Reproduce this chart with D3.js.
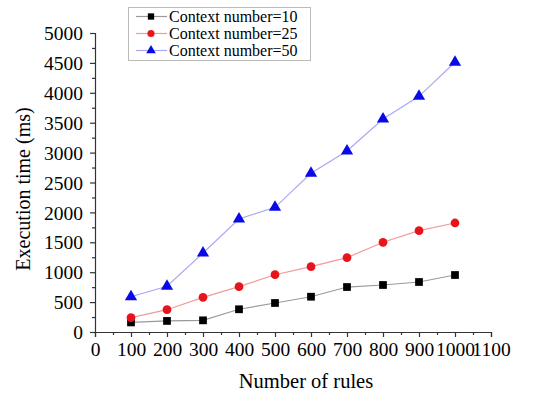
<!DOCTYPE html>
<html>
<head>
<meta charset="utf-8">
<script src="https://cdn.jsdelivr.net/npm/d3@7"></script>
<style>
  body { margin: 0; background: #fff; }
</style>
</head>
<body>
<svg id="svg1" width="535" height="396"></svg>
<script>
var rules = [100, 200, 300, 400, 500, 600, 700, 800, 900, 1000];
var ctx10 = [160, 185, 195, 380, 485, 590, 752, 786, 836, 953];
var ctx25 = [240, 373, 580, 758, 958, 1092, 1243, 1500, 1694, 1823];
var ctx50 = [590, 764, 1320, 1890, 2085, 2654, 3027, 3562, 3941, 4510];
var xTicks = [0, 100, 200, 300, 400, 500, 600, 700, 800, 900, 1000, 1100];
var yTicks = [0, 500, 1000, 1500, 2000, 2500, 3000, 3500, 4000, 4500, 5000];
var seriesNames = ["Context number=10", "Context number=25", "Context number=50"];
var serif = "'Liberation Serif', 'Times New Roman', serif";

var svg = d3.select("#svg1");
var x = d3.scaleLinear().domain([0, 1100]).range([95, 491]);
var y = d3.scaleLinear().domain([0, 5000]).range([332, 33]);

var series = [
  {name: seriesNames[0], values: ctx10, line: "#9a9a9a", fill: "#000", shape: d3.symbolSquare, size: 60},
  {name: seriesNames[1], values: ctx25, line: "#f29a9a", fill: "#e8141c", shape: d3.symbolCircle, size: 60},
  {name: seriesNames[2], values: ctx50, line: "#a8a8f5", fill: "#0a0ae6", shape: d3.symbolTriangle, size: 65}
];

// axes
var yAxis = svg.append("g").attr("transform", "translate(95,0)")
  .call(d3.axisLeft(y).tickValues(yTicks).tickSize(5).tickPadding(7).tickFormat(d3.format("d")));
svg.append("g").attr("transform", "translate(95,0)")
  .call(d3.axisLeft(y).tickValues(d3.range(250, 5000, 500)).tickSize(3).tickFormat(""))
  .select(".domain").remove();
var xAxis = svg.append("g").attr("transform", "translate(0,332)")
  .call(d3.axisBottom(x).tickValues(xTicks).tickSize(5).tickPadding(5).tickFormat(d3.format("d")));
svg.append("g").attr("transform", "translate(0,332)")
  .call(d3.axisBottom(x).tickValues(d3.range(50, 1100, 100)).tickSize(3).tickFormat(""))
  .select(".domain").remove();
svg.selectAll(".tick text").attr("fill", "#000")
  .style("font-family", serif).style("font-size", "19.5px");
svg.selectAll(".domain, .tick line").attr("stroke", "#333").attr("stroke-width", 1.2);
yAxis.selectAll(".tick text").attr("dy", "0.34em");
xAxis.selectAll(".tick text").attr("dy", "0.72em");

// axis titles
svg.append("text").attr("x", 306).attr("y", 388).attr("text-anchor", "middle")
  .style("font-family", serif).style("font-size", "20.5px").text("Number of rules");
svg.append("text").attr("transform", "translate(30,189) rotate(-90)").attr("text-anchor", "middle")
  .style("font-family", serif).style("font-size", "20px").text("Execution time (ms)");

// lines and markers
var line = d3.line().x(function(d, i) { return x(rules[i]); }).y(function(d) { return y(d); });
series.forEach(function(s) {
  svg.append("path").datum(s.values)
    .attr("fill", "none").attr("stroke", s.line).attr("stroke-width", 1.2).attr("d", line);
  svg.selectAll(null).data(s.values).enter().append("path")
    .attr("transform", function(d, i) { return "translate(" + x(rules[i]) + "," + y(d) + ")"; })
    .attr("d", d3.symbol().type(s.shape).size(s.size))
    .attr("fill", s.fill);
});

// legend
var lg = svg.append("g");
lg.append("rect").attr("x", 128.5).attr("y", 7.5).attr("width", 182).attr("height", 53)
  .attr("fill", "#fff").attr("stroke", "#bbb");
series.forEach(function(s, i) {
  var ly = 16.5 + i * 17;
  lg.append("line").attr("x1", 136).attr("x2", 167).attr("y1", ly).attr("y2", ly)
    .attr("stroke", s.line).attr("stroke-width", 1.2);
  lg.append("path").attr("transform", "translate(151," + ly + ")")
    .attr("d", d3.symbol().type(s.shape).size(40)).attr("fill", s.fill);
  lg.append("text").attr("x", 169).attr("y", ly).attr("dy", "0.33em")
    .style("font-family", serif).style("font-size", "16px").text(s.name);
});
</script>
</body>
</html>
